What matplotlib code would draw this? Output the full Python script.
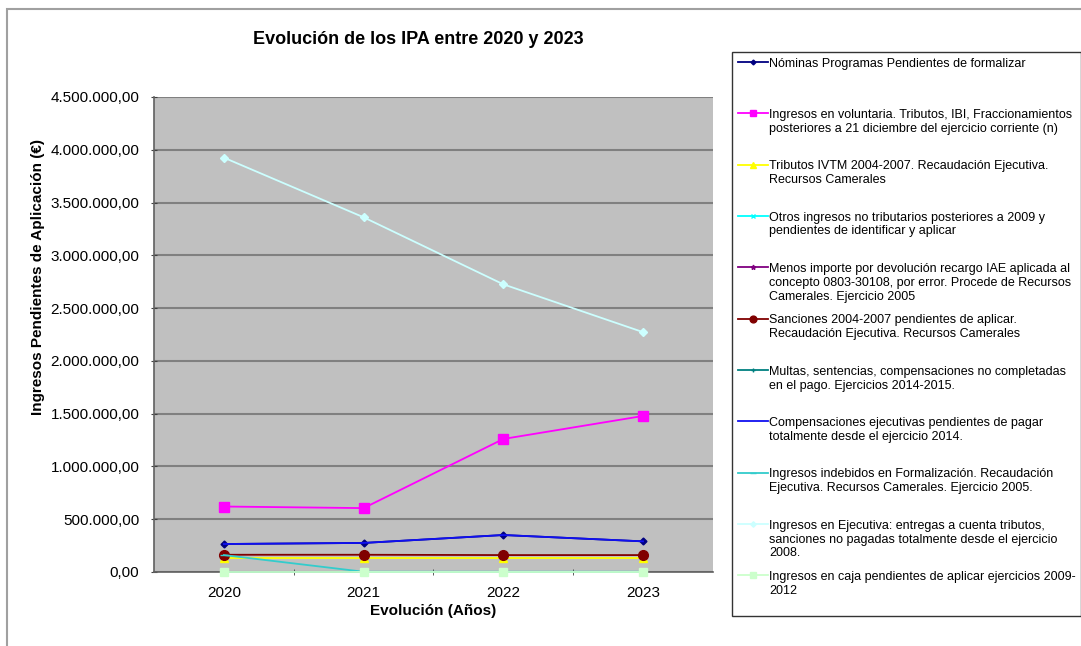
import matplotlib
matplotlib.use("Agg")
import numpy as np
import matplotlib.pyplot as plt
from matplotlib.ticker import FuncFormatter, MultipleLocator, FixedLocator
from matplotlib.patches import Rectangle
from matplotlib.lines import Line2D
from matplotlib.legend_handler import HandlerLine2D

plt.rcParams['font.family'] = ['Liberation Sans', 'DejaVu Sans']

years = ["2020", "2021", "2022", "2023"]

series_labels = [
    "Nóminas Programas Pendientes de formalizar",
    "Ingresos en voluntaria. Tributos, IBI, Fraccionamientos\nposteriores a 21 diciembre del ejercicio corriente (n)",
    "Tributos IVTM 2004-2007. Recaudación Ejecutiva.\nRecursos Camerales",
    "Otros ingresos no tributarios posteriores a 2009 y\npendientes de identificar y aplicar",
    "Menos importe por devolución recargo IAE aplicada al\nconcepto 0803-30108, por error. Procede de Recursos\nCamerales. Ejercicio 2005",
    "Sanciones 2004-2007 pendientes de aplicar.\nRecaudación Ejecutiva. Recursos Camerales",
    "Multas, sentencias, compensaciones no completadas\nen el pago. Ejercicios 2014-2015.",
    "Compensaciones ejecutivas pendientes de pagar\ntotalmente desde el ejercicio 2014.",
    "Ingresos indebidos en Formalización. Recaudación\nEjecutiva. Recursos Camerales. Ejercicio 2005.",
    "Ingresos en Ejecutiva: entregas a cuenta tributos,\nsanciones no pagadas totalmente desde el ejercicio\n2008.",
    "Ingresos en caja pendientes de aplicar ejercicios 2009-\n2012",
]

nominas = [265000, 275000, 350000, 290000]
voluntaria = [620000, 605000, 1260000, 1478000]
tributos_ivtm = [130000, 130000, 130000, 130000]
otros_ingresos = [0, 0, 0, 0]
menos_importe = [0, 0, 0, 0]
sanciones = [163000, 163000, 160000, 160000]
multas = [0, 0, 0, 0]
compensaciones = [265000, 275000, 350000, 290000]
indebidos = [160000, 2000, 2000, 2000]
ejecutiva = [3925000, 3360000, 2725000, 2272000]
caja = [0, 0, 0, 0]

values = [nominas, voluntaria, tributos_ivtm, otros_ingresos, menos_importe,
          sanciones, multas, compensaciones, indebidos, ejecutiva, caja]

styles = [
    dict(color="#000080", marker="D", ms=3.5),
    dict(color="#FF00FF", marker="s", ms=7),
    dict(color="#FFFF00", marker="^", ms=6),
    dict(color="#00FFFF", marker="x", ms=5),
    dict(color="#800080", marker="*", ms=5),
    dict(color="#800000", marker="o", ms=7),
    dict(color="#008080", marker="+", ms=5),
    dict(color="#1010F0", marker="None", ms=0),
    dict(color="#33CCCC", marker="_", ms=6),
    dict(color="#CCFFFF", marker="D", ms=4),
    dict(color="#CCFFCC", marker="s", ms=6),
]

LEG_FS = 9.0


class TopHandler(HandlerLine2D):
    def __init__(self, shift, **kw):
        super().__init__(**kw)
        self.shift = shift

    def create_artists(self, legend, orig_handle, xdescent, ydescent, width, height,
                       fontsize, trans):
        artists = super().create_artists(legend, orig_handle, xdescent, ydescent,
                                         width, height, fontsize, trans)
        for a in artists:
            a.set_ydata(np.asarray(a.get_ydata(), dtype=float) + self.shift)
        return artists


fig = plt.figure(figsize=(10.81, 6.46), dpi=100)
fig.patch.set_facecolor("white")
fig.patches.append(Rectangle((7 / 1081, -0.02), 1.0, 1.02 - 9 / 646, transform=fig.transFigure,
                             fill=False, edgecolor="#A0A0A0", linewidth=1.5))

ax = fig.add_axes([0.1425, 0.1146, 0.517, 0.7353])
ax.set_facecolor("#C0C0C0")

x = list(range(len(years)))
handles = []
for lab, vals, st in zip(series_labels, values, styles):
    h, = ax.plot(x, vals, color=st["color"], marker=st["marker"], markersize=st["ms"],
                 markeredgecolor=st["color"], markerfacecolor=st["color"],
                 linewidth=1.3, label=lab, clip_on=False, zorder=3)
    handles.append(h)

ax.set_xlim(-0.5, 3.5)
ax.set_ylim(0, 4500000)
ax.yaxis.set_major_locator(MultipleLocator(500000))


def es_fmt(v, pos):
    s = f"{v:,.2f}"
    return s.replace(",", "X").replace(".", ",").replace("X", ".")


ax.yaxis.set_major_formatter(FuncFormatter(es_fmt))
ax.set_xticks(x)
ax.set_xticklabels(years)
ax.xaxis.set_minor_locator(FixedLocator([0.5, 1.5, 2.5]))
ax.tick_params(axis="x", which="major", length=0, labelsize=11, pad=10)
ax.tick_params(axis="x", which="minor", length=5, direction="inout", color="#404040")
ax.tick_params(axis="y", length=5, direction="inout", labelsize=11, color="#404040", pad=8)
ax.grid(axis="y", color="#808080", linewidth=1.5, zorder=0)
ax.set_axisbelow(True)
for side in ["left", "bottom"]:
    ax.spines[side].set_color("#606060")
    ax.spines[side].set_linewidth(1.2)
for side in ["top", "right"]:
    ax.spines[side].set_visible(False)

ax.set_xlabel("Evolución (Años)", fontsize=11, fontweight="bold", labelpad=3)
ax.set_ylabel("Ingresos Pendientes de Aplicación (€)", fontsize=11, fontweight="bold")
ax.yaxis.set_label_coords(-0.195, 0.62)
fig.text(418 / 1081, 1 - 40 / 646, "Evolución de los IPA entre 2020 y 2023", ha="center",
         va="center", fontsize=13, fontweight="bold")

pad_labels = []
for lab in series_labels:
    n = lab.count("\n") + 1
    pad_labels.append(lab + "\n" * (3 - n))

shift_pt = 11.3
leg = fig.legend(handles, pad_labels, loc="upper left",
                 bbox_to_anchor=(732 / 1081, 1 - 52 / 646),
                 frameon=True, fontsize=LEG_FS, handlelength=2.4, handletextpad=0.1,
                 labelspacing=0.94, borderaxespad=0, borderpad=0.45, fancybox=False,
                 markerscale=0.7,
                 edgecolor="black", handler_map={Line2D: TopHandler(shift_pt)})
leg.get_frame().set_linewidth(1.0)

fig.savefig("out.png", dpi=100)
